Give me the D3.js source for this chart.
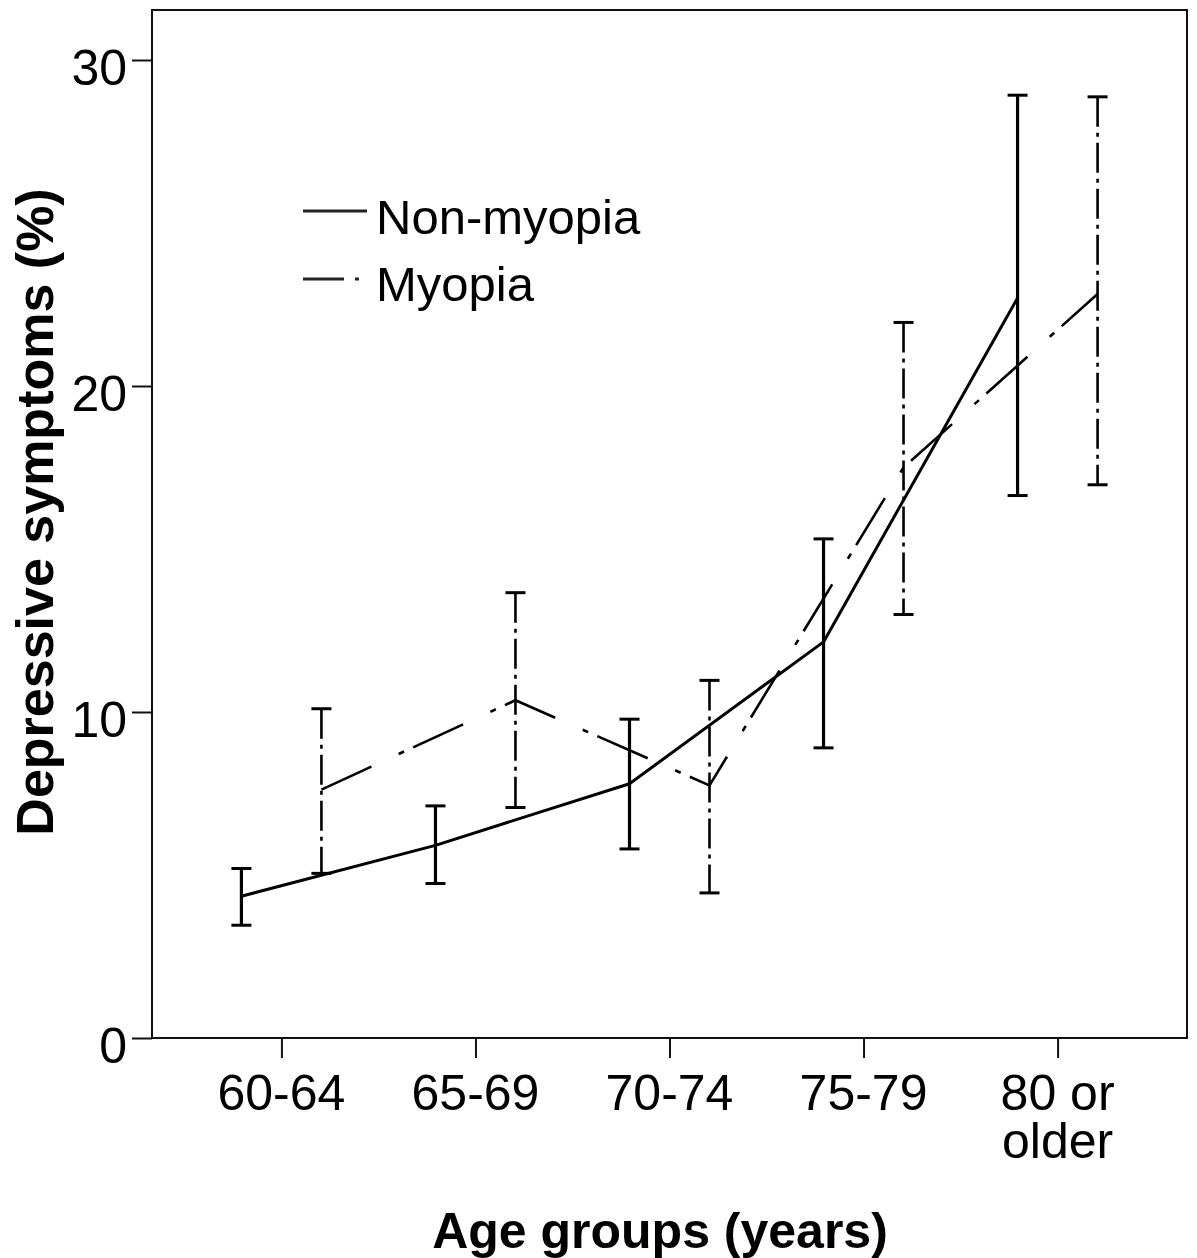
<!DOCTYPE html>
<html>
<head>
<meta charset="utf-8">
<script src="https://cdn.jsdelivr.net/npm/d3@7"></script>
<style>
  body { margin: 0; background: #fff; }
  text { font-family: "Liberation Sans", Arial, sans-serif; fill: #000; }
</style>
</head>
<body>
<script>
const w = 1197;
const h = 1258;

const ageGroups = ["60-64", "65-69", "70-74", "75-79", "80 or older"];
const yTicks = [0, 10, 20, 30];

// non-myopia: mean and 95% CI
const nonMean = [4.35, 5.91, 7.8, 12.15, 22.7];
const nonLow = [3.46, 4.74, 5.8, 8.9, 16.64];
const nonHigh = [5.2, 7.12, 9.78, 15.31, 28.92];

// myopia: mean and 95% CI
const myoMean = [7.62, 10.36, 7.75, 17.5, 22.82];
const myoLow = [5.05, 7.07, 4.45, 12.99, 16.97];
const myoHigh = [10.1, 13.66, 10.97, 21.95, 28.87];

const plotLeft = 152, plotRight = 1187, plotTop = 10, plotBottom = 1038;
const offset = 40;

const svg = d3.select("body").append("svg").attr("width", w).attr("height", h);

const x = d3.scalePoint().domain(ageGroups).range([plotLeft, plotRight]).padding(0.667);
const y = d3.scaleLinear().domain([0, 30]).range([plotBottom, 60]);

// frame
svg.append("rect")
  .attr("x", plotLeft).attr("y", plotTop)
  .attr("width", plotRight - plotLeft).attr("height", plotBottom - plotTop)
  .attr("fill", "none").attr("stroke", "#111").attr("stroke-width", 2);

// y axis
const yAxis = svg.append("g")
  .attr("transform", `translate(${plotLeft},0)`)
  .call(d3.axisLeft(y).tickValues(yTicks).tickSize(20).tickPadding(5));
yAxis.select(".domain").remove();
yAxis.selectAll("line").attr("stroke", "#111").attr("stroke-width", 2);
yAxis.selectAll("text")
  .attr("font-size", 50).attr("dy", "0.48em")
  .style("font-family", "'Liberation Sans', Arial, sans-serif");

// x axis
const xAxis = svg.append("g")
  .attr("transform", `translate(0,${plotBottom})`)
  .call(d3.axisBottom(x).tickSize(20).tickFormat(""));
xAxis.select(".domain").remove();
xAxis.selectAll("line").attr("stroke", "#111").attr("stroke-width", 2);

svg.selectAll("text.xlab").data(ageGroups).enter().append("text")
  .attr("class", "xlab")
  .attr("text-anchor", "middle")
  .attr("font-size", 50)
  .attr("x", d => x(d))
  .attr("y", 1110)
  .each(function (d) {
    const parts = d === "80 or older" ? ["80 or", "older"] : [d];
    d3.select(this).selectAll("tspan").data(parts).enter().append("tspan")
      .attr("x", x(d))
      .attr("dy", (p, i) => i === 0 ? 0 : 48)
      .text(p => p);
  });

// axis titles
svg.append("text")
  .attr("transform", "translate(53,512) rotate(-90)")
  .attr("text-anchor", "middle")
  .attr("font-size", 52).attr("font-weight", "bold")
  .text("Depressive symptoms (%)");

svg.append("text")
  .attr("x", 660).attr("y", 1248)
  .attr("text-anchor", "middle")
  .attr("font-size", 50).attr("font-weight", "bold")
  .text("Age groups (years)");

// error bars
function errorBars(cls, lows, highs, dx, width, dash) {
  const g = svg.append("g").attr("class", cls);
  const idx = d3.range(lows.length);
  g.selectAll("line.bar").data(idx).enter().append("line")
    .attr("class", "bar")
    .attr("x1", i => x(ageGroups[i]) + dx).attr("x2", i => x(ageGroups[i]) + dx)
    .attr("y1", i => y(highs[i])).attr("y2", i => y(lows[i]))
    .attr("stroke", "#000").attr("stroke-width", width)
    .attr("stroke-dasharray", dash);
  [highs, lows].forEach(arr => {
    g.selectAll(null).data(idx).enter().append("line")
      .attr("x1", i => x(ageGroups[i]) + dx - 10).attr("x2", i => x(ageGroups[i]) + dx + 10)
      .attr("y1", i => y(arr[i])).attr("y2", i => y(arr[i]))
      .attr("stroke", "#000").attr("stroke-width", 3);
  });
}

errorBars("non", nonLow, nonHigh, -offset, 3.2, null);
errorBars("myo", myoLow, myoHigh, offset, 2.6, "30,6,4,6");

// mean lines
const lineNon = d3.line().x((d, i) => x(ageGroups[i]) - offset).y(d => y(d));
const lineMyo = d3.line().x((d, i) => x(ageGroups[i]) + offset).y(d => y(d));

svg.append("path").datum(nonMean)
  .attr("d", lineNon).attr("fill", "none")
  .attr("stroke", "#000").attr("stroke-width", 3).attr("stroke-linejoin", "round");

svg.append("path").datum(myoMean)
  .attr("d", lineMyo).attr("fill", "none")
  .attr("stroke", "#000").attr("stroke-width", 2.6)
  .attr("stroke-dasharray", "55,30,6,10");

// legend
svg.append("line")
  .attr("x1", 303).attr("x2", 367).attr("y1", 211).attr("y2", 211)
  .attr("stroke", "#222").attr("stroke-width", 3);
svg.append("line")
  .attr("x1", 303).attr("x2", 359).attr("y1", 279).attr("y2", 279)
  .attr("stroke", "#222").attr("stroke-width", 3)
  .attr("stroke-dasharray", "41,11,4,100");

svg.append("text").attr("x", 376).attr("y", 234).attr("font-size", 49).text("Non-myopia");
svg.append("text").attr("x", 376).attr("y", 301).attr("font-size", 49).text("Myopia");
</script>
</body>
</html>
